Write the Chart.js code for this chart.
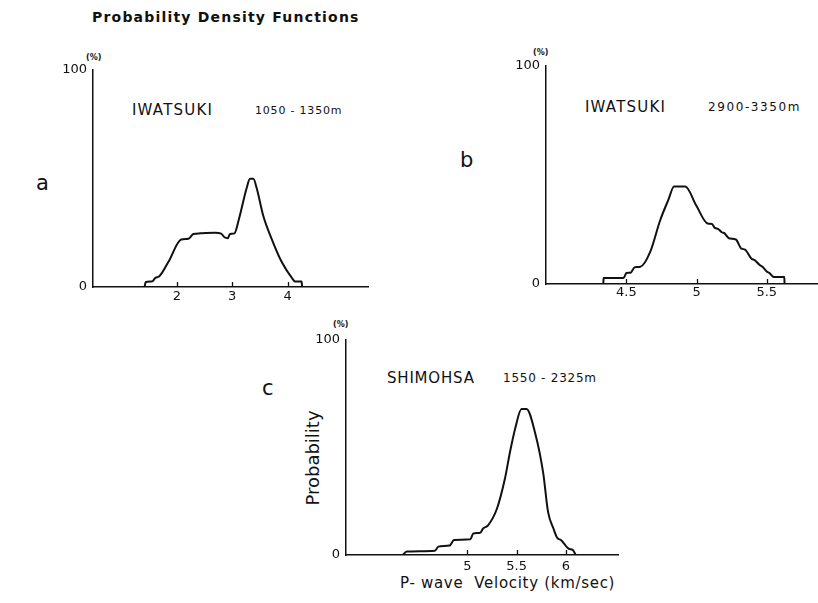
<!DOCTYPE html>
<html>
<head>
<meta charset="utf-8">
<script src="https://cdn.jsdelivr.net/npm/chart.js@4.4.0/dist/chart.umd.min.js"></script>
<style>
  html, body { margin: 0; padding: 0; background: #fff; }
  body { width: 818px; height: 603px; position: relative; overflow: hidden; font-family: "DejaVu Sans", sans-serif; color: #111; }
  canvas { position: absolute; }
  .lbl { position: absolute; white-space: pre; line-height: 1; transform: translateY(-50%); }
</style>
</head>
<body>
<div class="lbl" style="left:92px;top:17px;font-size:14px;font-weight:bold;letter-spacing:1.2px">Probability Density Functions</div>

<div class="lbl" style="left:36px;top:183px;font-size:21px">a</div>
<div class="lbl" style="left:460px;top:160px;font-size:21px">b</div>
<div class="lbl" style="left:262px;top:388px;font-size:21px">c</div>

<div class="lbl" style="left:86px;top:58px;font-size:8px;font-weight:bold">(%)</div>
<div class="lbl" style="left:533px;top:53px;font-size:8px;font-weight:bold">(%)</div>
<div class="lbl" style="left:333px;top:325px;font-size:8px;font-weight:bold">(%)</div>

<div class="lbl" style="left:132px;top:110px;font-size:15px;letter-spacing:1.2px">IWATSUKI</div>
<div class="lbl" style="left:255px;top:110px;font-size:11px;letter-spacing:0.8px">1050 - 1350m</div>
<div class="lbl" style="left:585px;top:107px;font-size:15px;letter-spacing:1.2px">IWATSUKI</div>
<div class="lbl" style="left:708px;top:107px;font-size:12px;letter-spacing:1.6px">2900-3350m</div>
<div class="lbl" style="left:387px;top:378px;font-size:15px;letter-spacing:0.8px">SHIMOHSA</div>
<div class="lbl" style="left:503px;top:378px;font-size:12px;letter-spacing:0.75px">1550 - 2325m</div>

<div class="lbl" style="left:313px;top:458px;font-size:18px;transform:translate(-50%,-50%) rotate(-90deg)">Probability</div>
<div class="lbl" style="left:400px;top:583px;font-size:15px;letter-spacing:0.7px">P- wave  Velocity (km/sec)</div>

<canvas id="cA" width="330" height="261" style="left:43px;top:56px"></canvas>
<canvas id="cB" width="322" height="262" style="left:496px;top:52px"></canvas>
<canvas id="cC" width="327" height="259" style="left:296px;top:326px"></canvas>

<script>
// a : IWATSUKI 1050 - 1350 m
const velA  = [1.42, 1.44, 1.55, 1.62, 1.68, 1.85, 2.08, 2.21, 2.30, 2.42, 2.69, 2.80, 2.86, 2.92,
               2.96, 3.04, 3.12, 3.26, 3.32, 3.38, 3.44, 3.56, 3.71, 3.89, 4.10, 4.13, 4.25, 4.26];
const probA = [0, 2.3, 2.5, 4.3, 4.8, 11.6, 21.9, 22.2, 24.4, 24.7, 25.0, 24.6, 22.9, 22.5,
               24.4, 24.7, 31.2, 45.6, 49.8, 49.8, 45.6, 32.7, 22.2, 11.6, 3.3, 2.5, 2.5, 0];
const ticksA = [2, 3, 4];

// b : IWATSUKI 2900 - 3350 m
const velB  = [4.336, 4.338, 4.48, 4.50, 4.53, 4.56, 4.60, 4.67, 4.74, 4.80, 4.84, 4.92, 5.00, 5.08,
               5.11, 5.13, 5.155, 5.18, 5.20, 5.23, 5.28, 5.32, 5.345, 5.39, 5.415, 5.45, 5.47, 5.50,
               5.52, 5.55, 5.625, 5.627];
const probB = [0, 2.7, 2.7, 5.0, 5.2, 7.7, 7.9, 14.7, 29, 38.7, 44.7, 44.7, 35.7, 27.7,
               27.5, 25.7, 25.2, 23.7, 23.2, 21.0, 20.4, 16.2, 15.8, 11.7, 10.9, 8.7, 7.9, 5.7,
               5.0, 3.2, 3.2, 0];
const ticksB = [4.5, 5, 5.5];

// c : SHIMOHSA 1550 - 2325 m
const velC  = [4.343, 4.384, 4.67, 4.705, 4.82, 4.865, 5.03, 5.06, 5.13, 5.16, 5.21, 5.30, 5.38,
               5.434, 5.485, 5.55, 5.60, 5.69, 5.77, 5.82, 5.874, 5.915, 5.95, 6.03, 6.07, 6.10];
const probC = [0, 1.6, 2.0, 3.9, 4.4, 7.0, 7.3, 10.0, 10.3, 12.3, 13.8, 21.5, 35.2,
               48.1, 58.7, 67.9, 67.9, 56.4, 38.2, 19.9, 12.3, 7.8, 7.0, 2.9, 2.4, 0];
const ticksC = [5, 5.5, 6];

const yTicks = [0, 100];   // %
const INK = '#111';

// petits traits de graduation vers l'intérieur
const tickMarks = {
  id: 'tickMarks',
  afterDraw(chart) {
    const { ctx, chartArea } = chart;
    const x = chart.scales.x;
    ctx.save();
    ctx.strokeStyle = INK;
    ctx.lineWidth = 1.3;
    x.ticks.forEach(t => {
      const px = Math.round(x.getPixelForValue(t.value)) + 0.5;
      ctx.beginPath();
      ctx.moveTo(px, chartArea.bottom);
      ctx.lineTo(px, chartArea.bottom - 5);
      ctx.stroke();
    });
    ctx.restore();
  }
};

function panel(id, vel, prob, xMin, xMax, xTicks, padRight, lblPad) {
  return new Chart(document.getElementById(id), {
    type: 'line',
    data: {
      datasets: [{
        data: vel.map((v, i) => ({ x: v, y: prob[i] })),
        borderColor: INK, borderWidth: 2, pointRadius: 0, fill: false,
        cubicInterpolationMode: 'monotone', borderJoinStyle: 'round', borderCapStyle: 'round'
      }]
    },
    options: {
      responsive: false, animation: false, events: [],
      layout: { padding: { top: 10, right: padRight, left: 0, bottom: 0 } },
      plugins: { legend: { display: false }, tooltip: { enabled: false } },
      scales: {
        x: {
          type: 'linear', min: xMin, max: xMax,
          afterBuildTicks: ax => { ax.ticks = xTicks.map(v => ({ value: v })); },
          afterFit: ax => { ax.height = 30; },
          grid: { display: false, drawTicks: false },
          border: { display: true, color: INK, width: 1.5 },
          ticks: { color: INK, padding: lblPad, maxRotation: 0, autoSkip: false,
                   font: { family: 'DejaVu Sans', size: 13 }, callback: v => String(v) }
        },
        y: {
          min: 0, max: 100,
          afterBuildTicks: ax => { ax.ticks = yTicks.map(v => ({ value: v })); },
          afterFit: ax => { ax.width = 50; },
          grid: { display: false, drawTicks: false },
          border: { display: true, color: INK, width: 1.5 },
          ticks: { color: INK, padding: 6, font: { family: 'DejaVu Sans', size: 13 }, callback: v => String(v) }
        }
      }
    },
    plugins: [tickMarks]
  });
}

panel('cA', velA, probA, 0.49, 5.447, ticksA, 5, 2);
panel('cB', velB, probB, 3.928, 5.865, ticksB, 0, 1);
panel('cC', velC, probC, 3.767, 6.53, ticksC, 5, 4);
</script>
</body>
</html>
